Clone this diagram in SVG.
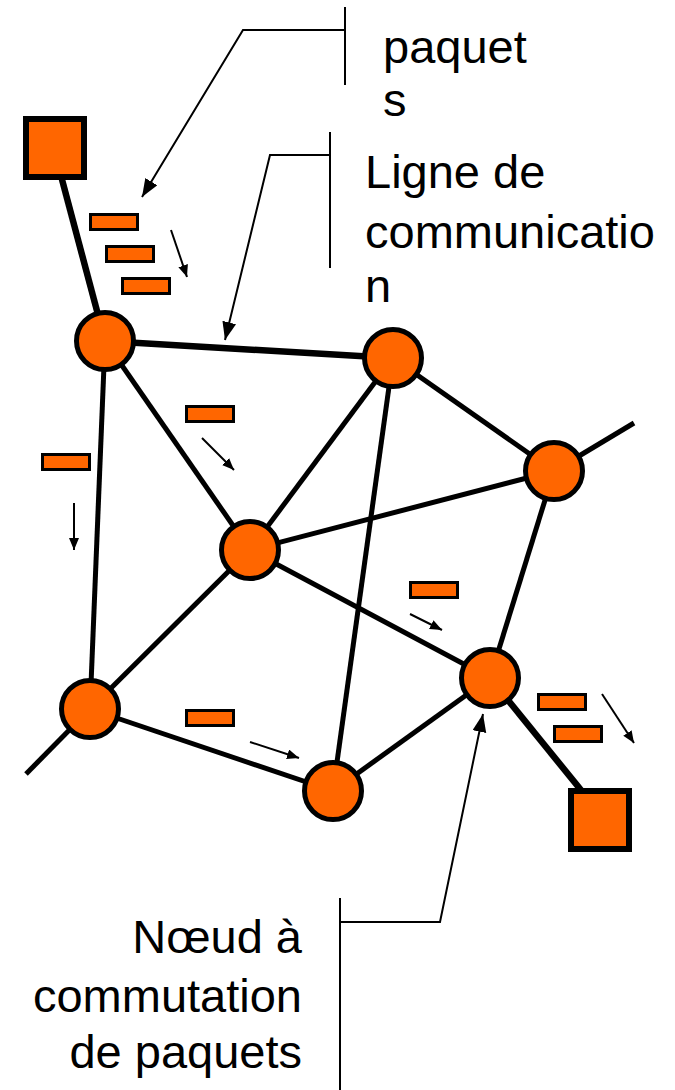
<svg xmlns="http://www.w3.org/2000/svg" width="675" height="1090" viewBox="0 0 675 1090">
<style>
.edge{stroke:#000;stroke-width:5;fill:none;stroke-linecap:butt}
.thick{stroke-width:6.5}
.node{fill:#FF6600;stroke:#000;stroke-width:5}
.host{fill:#FF6600;stroke:#000;stroke-width:6}
.pkt{fill:#FF6600;stroke:#000;stroke-width:3}
.call{stroke:#000;stroke-width:2;fill:none}
.parr{stroke:#000;stroke-width:2;fill:none}
.lbl{font-family:"Liberation Sans",Arial,sans-serif;font-size:47px;fill:#000}
</style>
<defs>
<marker id="bigHead" markerUnits="userSpaceOnUse" markerWidth="20" markerHeight="16" refX="18" refY="7" orient="auto">
<path d="M0,0 L18,7 L0,14 Z" fill="#000"/>
</marker>
<marker id="smallHead" markerUnits="userSpaceOnUse" markerWidth="14" markerHeight="12" refX="12" refY="5" orient="auto">
<path d="M0,0 L12,5 L0,10 Z" fill="#000"/>
</marker>
</defs>
<rect width="675" height="1090" fill="#fff"/>
<g id="connectors">
<line class="edge thick" x1="60" y1="172" x2="105" y2="341"/>
<line class="edge thick" x1="105" y1="341" x2="393" y2="358"/>
<line class="edge" x1="105" y1="341" x2="90" y2="709"/>
<line class="edge" x1="105" y1="341" x2="250" y2="550"/>
<line class="edge" x1="393" y1="358" x2="250" y2="550"/>
<line class="edge" x1="393" y1="358" x2="333" y2="791"/>
<line class="edge" x1="393" y1="358" x2="554" y2="471"/>
<line class="edge" x1="554" y1="471" x2="634" y2="423"/>
<line class="edge" x1="554" y1="471" x2="250" y2="550"/>
<line class="edge" x1="554" y1="471" x2="490" y2="678"/>
<line class="edge" x1="250" y1="550" x2="90" y2="709"/>
<line class="edge" x1="250" y1="550" x2="490" y2="678"/>
<line class="edge" x1="90" y1="709" x2="333" y2="791"/>
<line class="edge" x1="90" y1="709" x2="26" y2="774"/>
<line class="edge" x1="490" y1="678" x2="333" y2="791"/>
<line class="edge thick" x1="490" y1="678" x2="585" y2="795"/>
</g>
<g id="host1"><rect class="host" x="26" y="119" width="58" height="58"/></g>
<g id="host2"><rect class="host" x="571" y="791" width="58" height="58"/></g>
<g id="node1"><circle class="node" cx="105" cy="341" r="28.5"/></g>
<g id="node2"><circle class="node" cx="393" cy="358" r="28.5"/></g>
<g id="node3"><circle class="node" cx="554" cy="471" r="28.5"/></g>
<g id="node4"><circle class="node" cx="250" cy="550" r="28.5"/></g>
<g id="node5"><circle class="node" cx="90" cy="709" r="28.5"/></g>
<g id="node6"><circle class="node" cx="490" cy="678" r="28.5"/></g>
<g id="node7"><circle class="node" cx="333" cy="791" r="28.5"/></g>
<g id="packets">
<rect class="pkt" x="90.5" y="214.5" width="47" height="15"/>
<rect class="pkt" x="106.5" y="246.5" width="47" height="15"/>
<rect class="pkt" x="122.5" y="278.5" width="47" height="15"/>
<rect class="pkt" x="186.5" y="406.5" width="47" height="15"/>
<rect class="pkt" x="42.5" y="454.5" width="47" height="15"/>
<rect class="pkt" x="410.5" y="582.5" width="47" height="15"/>
<rect class="pkt" x="186.5" y="710.5" width="47" height="15"/>
<rect class="pkt" x="538.5" y="694.5" width="47" height="15"/>
<rect class="pkt" x="554.5" y="726.5" width="47" height="15"/>
</g>
<g id="packet-arrows">
<line class="parr" x1="171" y1="230" x2="187" y2="277" marker-end="url(#smallHead)"/>
<line class="parr" x1="202" y1="438" x2="234" y2="470" marker-end="url(#smallHead)"/>
<line class="parr" x1="74" y1="503" x2="74" y2="550" marker-end="url(#smallHead)"/>
<line class="parr" x1="410" y1="614" x2="442" y2="630" marker-end="url(#smallHead)"/>
<line class="parr" x1="250" y1="742" x2="299" y2="758" marker-end="url(#smallHead)"/>
<line class="parr" x1="602" y1="694" x2="634" y2="743" marker-end="url(#smallHead)"/>
</g>
<g id="callout-paquets">
<line class="call" x1="345" y1="7" x2="345" y2="85"/>
<polyline class="call" points="345,30 243,30 142,197" marker-end="url(#bigHead)"/>
<text class="lbl" x="383" y="63">paquet</text>
<text class="lbl" x="383" y="116">s</text>
</g>
<g id="callout-ligne">
<line class="call" x1="330" y1="132" x2="330" y2="268"/>
<polyline class="call" points="330,155 270,155 225,340" marker-end="url(#bigHead)"/>
<text class="lbl" x="365" y="188">Ligne de</text>
<text class="lbl" x="365" y="248">communicatio</text>
<text class="lbl" x="365" y="302">n</text>
</g>
<g id="callout-noeud">
<line class="call" x1="340" y1="898" x2="340" y2="1090"/>
<polyline class="call" points="340,922 440,922 483,714" marker-end="url(#bigHead)"/>
<text class="lbl" x="302" y="953" text-anchor="end">Nœud à</text>
<text class="lbl" x="302" y="1012" text-anchor="end">commutation</text>
<text class="lbl" x="302" y="1068" text-anchor="end">de paquets</text>
</g>
</svg>
